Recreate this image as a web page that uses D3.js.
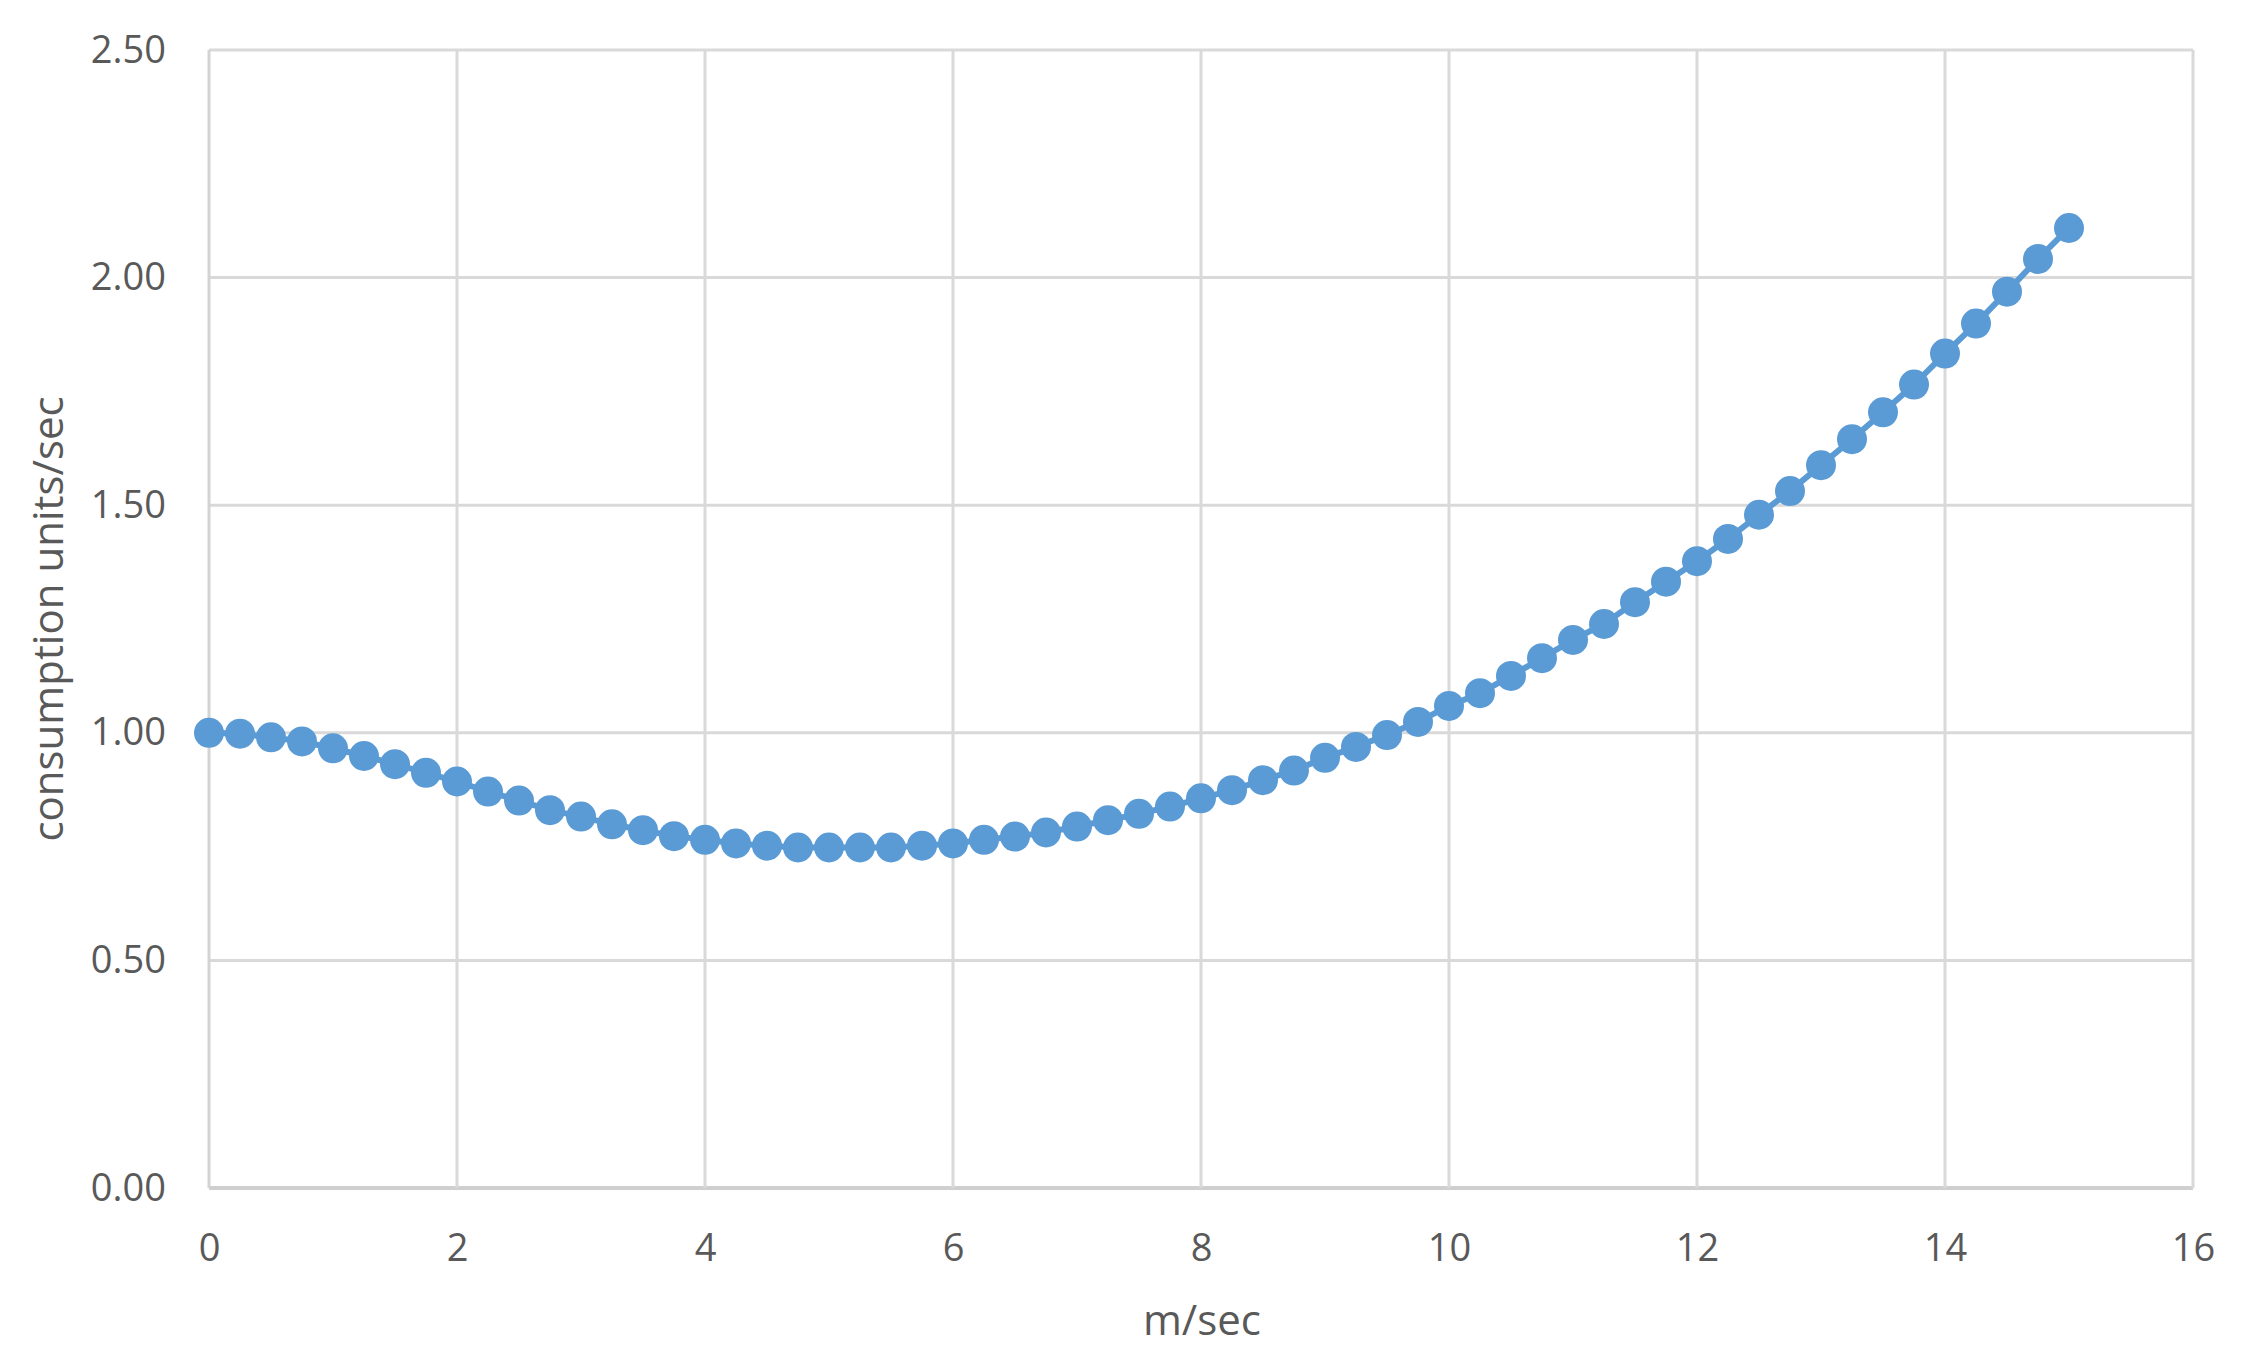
<!DOCTYPE html>
<html lang="en">
<head>
  <meta charset="UTF-8" />
  <title>consumption vs speed</title>
  <script src="https://d3js.org/d3.v7.min.js"></script>
  <style>
    body { margin: 0; background: #fff; }
    text { font-family: "Open Sans", "Noto Sans", sans-serif; fill: #595959; }
    .grid line { stroke: #d9d9d9; stroke-width: 3px; }
    .axis path, .axis line { display: none; }
  </style>
</head>
<body>
  <div id="chart"></div>
  <script>
    // speed (m/sec)
    const speeds = d3.range(61).map(i => i * 0.25);
    // consumption units/sec
    const consumption = [
      1.000, 0.998, 0.990, 0.981, 0.966, 0.949, 0.931, 0.912, 0.893, 0.871,
      0.851, 0.830, 0.816, 0.799, 0.786, 0.773, 0.765, 0.757, 0.752, 0.748,
      0.748, 0.748, 0.748, 0.752, 0.757, 0.765, 0.772, 0.781, 0.794, 0.808,
      0.822, 0.838, 0.856, 0.874, 0.896, 0.917, 0.945, 0.969, 0.995, 1.024,
      1.059, 1.087, 1.125, 1.164, 1.204, 1.239, 1.287, 1.332, 1.377, 1.426,
      1.479, 1.531, 1.588, 1.645, 1.704, 1.765, 1.833, 1.899, 1.969, 2.041,
      2.109
    ];
    const xTicks = [0, 2, 4, 6, 8, 10, 12, 14, 16];
    const yTicks = [0, 0.5, 1, 1.5, 2, 2.5];

    const W = 2241, H = 1367;
    const margin = { top: 50, right: 48, bottom: 179, left: 209 };
    const width = W - margin.left - margin.right;
    const height = H - margin.top - margin.bottom;

    const svg = d3.select('#chart').append('svg')
      .attr('width', W).attr('height', H);
    const g = svg.append('g')
      .attr('transform', `translate(${margin.left},${margin.top})`);

    const x = d3.scaleLinear().domain([0, 16]).range([0, width]);
    const y = d3.scaleLinear().domain([0, 2.5]).range([height, 0]);

    // gridlines
    g.append('g').attr('class', 'grid')
      .selectAll('line.h').data(yTicks).join('line')
      .attr('x1', 0).attr('x2', width)
      .attr('y1', d => y(d)).attr('y2', d => y(d))
      .style('stroke', d => d === 0 ? '#cfcfcf' : null)
      .style('stroke-width', d => d === 0 ? '4px' : null);
    g.select('.grid')
      .selectAll('line.v').data(xTicks).join('line')
      .attr('class', 'v')
      .attr('y1', 0).attr('y2', height)
      .attr('x1', d => x(d)).attr('x2', d => x(d))
      .style('stroke', d => d === 0 ? '#d3d3d3' : null);

    // axes (labels only)
    g.append('g').attr('class', 'axis')
      .call(d3.axisLeft(y).tickValues(yTicks).tickFormat(d3.format('.2f')).tickSize(0).tickPadding(43))
      .selectAll('text').style('font-size', '38px').style('fill', '#595959');
    g.append('g').attr('class', 'axis')
      .attr('transform', `translate(0,${height})`)
      .call(d3.axisBottom(x).tickValues(xTicks).tickSize(0).tickPadding(46))
      .selectAll('text').style('font-size', '38px').style('fill', '#595959');

    // axis titles
    svg.append('text')
      .attr('x', margin.left + width / 2 + 1)
      .attr('y', 1335)
      .attr('text-anchor', 'middle')
      .style('font-size', '42px')
      .text('m/sec');
    svg.append('text')
      .attr('transform', 'translate(63,619) rotate(-90)')
      .attr('text-anchor', 'middle')
      .style('font-size', '42px')
      .text('consumption units/sec');

    // series
    const pts = speeds.map((s, i) => ({ s, v: consumption[i] }));
    g.append('path').datum(pts)
      .attr('fill', 'none')
      .attr('stroke', '#5b9bd5')
      .attr('stroke-width', 6)
      .attr('d', d3.line().x(d => x(d.s)).y(d => y(d.v)));
    g.selectAll('circle.pt').data(pts).join('circle')
      .attr('class', 'pt')
      .attr('r', 15)
      .attr('fill', '#5b9bd5')
      .attr('cx', d => x(d.s))
      .attr('cy', d => y(d.v));
  </script>
</body>
</html>
